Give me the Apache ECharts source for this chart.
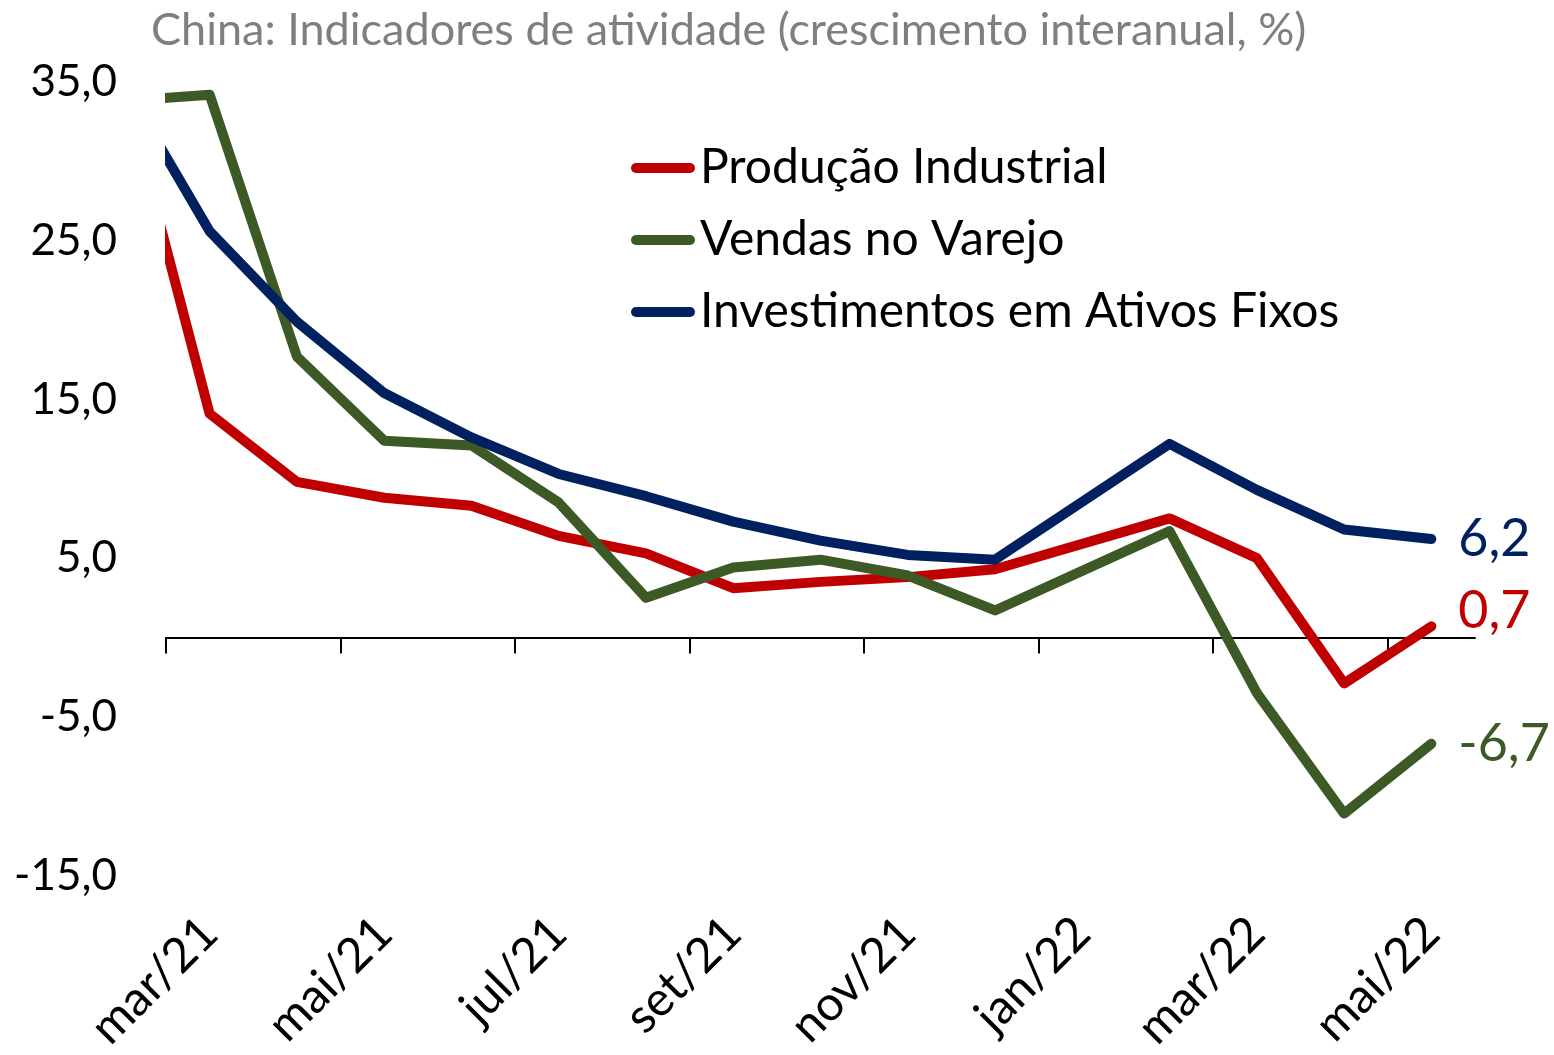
<!DOCTYPE html>
<html>
<head>
<meta charset="utf-8">
<script src="https://cdn.jsdelivr.net/npm/echarts@6/dist/echarts.min.js"></script>
<style>
  html, body { margin: 0; padding: 0; background: #fff; }
  #chart { width: 1554px; height: 1055px; }
</style>
</head>
<body>
<div id="chart"></div>
<script>
// meses do eixo (um rótulo a cada dois)
var months = ['mar/21', 'abr/21', 'mai/21', 'jun/21', 'jul/21', 'ago/21', 'set/21', 'out/21',
  'nov/21', 'dez/21', 'jan/22', 'fev/22', 'mar/22', 'abr/22', 'mai/22']
// datas das observações (jan+fev divulgados juntos, por isso não há jan/22)
var obsDates = ['2021-02', '2021-03', '2021-04', '2021-05', '2021-06', '2021-07', '2021-08', '2021-09',
  '2021-10', '2021-11', '2021-12', '2022-02', '2022-03', '2022-04', '2022-05']
var producao = [35.1, 14.1, 9.8, 8.8, 8.3, 6.4, 5.3, 3.1, 3.5, 3.8, 4.3, 7.5, 5.0, -2.9, 0.7]
var varejo = [33.8, 34.2, 17.7, 12.4, 12.1, 8.5, 2.5, 4.4, 4.9, 3.9, 1.7, 6.7, -3.5, -11.1, -6.7]
var investimentos = [35.0, 25.6, 19.9, 15.4, 12.6, 10.3, 8.9, 7.3, 6.1, 5.2, 4.9, 12.2, 9.3, 6.8, 6.2]
var yTicks = [-15, -5, 5, 15, 25, 35]

var FONT = 'Lato'
var GRID = { left: 166, right: 79, top: 82, bottom: 178 }

// posição do mês no eixo (centro da faixa do mês, a partir de mar/21)
function monthPos (d) {
  var p = d.split('-')
  return (parseInt(p[0], 10) - 2021) * 12 + (parseInt(p[1], 10) - 3) + 0.5
}
function fmt (v) {
  return v.toFixed(1).replace('.', ',')
}
function pairs (vals) {
  return vals.map(function (v, i) { return [monthPos(obsDates[i]), v] })
}
var tickPos = months.map(function (m, i) { return i }).filter(function (i) { return i % 2 === 0 })

function lineSeries (name, vals, color, labelOffset) {
  return {
    name: name,
    type: 'line',
    xAxisIndex: 1,
    data: pairs(vals),
    symbol: 'none',
    clip: true,
    color: color,
    lineStyle: { color: color, width: 10, cap: 'round', join: 'round' },
    endLabel: {
      show: true,
      formatter: function (p) { return fmt(p.value[1]) },
      color: color,
      fontFamily: FONT,
      fontSize: 52,
      distance: 27,
      offset: labelOffset
    },
    emphasis: { disabled: true }
  }
}

var chart = echarts.init(document.getElementById('chart'))
chart.setOption({
  animation: false,
  title: {
    text: 'China: Indicadores de atividade (crescimento interanual, %)',
    left: 146,
    top: 3,
    textStyle: { color: '#7f7f7f', fontFamily: FONT, fontSize: 45, fontWeight: 'normal' }
  },
  legend: {
    orient: 'vertical',
    left: 626,
    top: 136,
    itemWidth: 64,
    itemHeight: 11,
    itemGap: 18,
    icon: 'path://M5,0 L59,0 A5,5 0 0 1 59,10 L5,10 A5,5 0 0 1 5,0 Z',
    textStyle: { color: '#000', fontFamily: FONT, fontSize: 48, lineHeight: 54 },
    data: ['Produção Industrial', 'Vendas no Varejo', 'Investimentos em Ativos Fixos']
  },
  grid: GRID,
  // faixa branca à esquerda do eixo: corta o arredondamento das linhas em mar/21
  graphic: [{
    type: 'rect',
    left: 128,
    top: GRID.top - 10,
    z: 100,
    shape: { width: GRID.left - 1 - 128, height: 555 },
    style: { fill: '#fff' },
    silent: true
  }],
  xAxis: [
    {
      type: 'category',
      data: months,
      boundaryGap: true,
      position: 'bottom',
      axisLine: { show: false, onZero: false },
      axisTick: { show: false },
      axisLabel: { interval: 1, rotate: 45, margin: 50, color: '#000', fontFamily: FONT, fontSize: 48 },
      splitLine: { show: false }
    },
    {
      type: 'value',
      min: 0,
      max: 15,
      position: 'bottom',
      axisLine: { show: true, onZero: true, lineStyle: { color: '#000', width: 2 } },
      axisTick: { show: true, customValues: tickPos, length: 16, lineStyle: { color: '#000', width: 2 } },
      axisLabel: { show: false },
      splitLine: { show: false }
    }
  ],
  yAxis: {
    type: 'value',
    min: -15,
    max: 35,
    interval: 10,
    axisLine: { show: false },
    axisTick: { show: false },
    splitLine: { show: false },
    axisLabel: {
      customValues: yTicks,
      formatter: fmt,
      margin: 49,
      color: '#000',
      fontFamily: FONT,
      fontSize: 44
    }
  },
  series: [
    lineSeries('Produção Industrial', producao, '#c00000', [0, -15]),
    lineSeries('Vendas no Varejo', varejo, '#3d5a26', [0, 0]),
    lineSeries('Investimentos em Ativos Fixos', investimentos, '#002060', [0, 0])
  ]
})
</script>
</body>
</html>
